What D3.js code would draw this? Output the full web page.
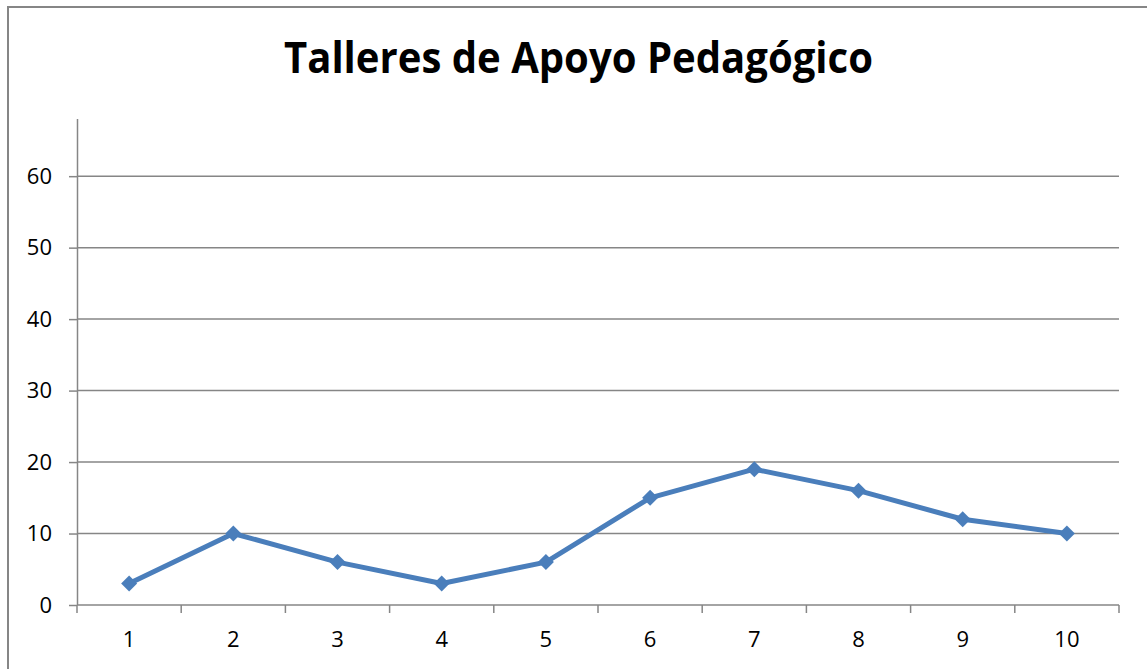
<!DOCTYPE html>
<html>
<head>
<meta charset="utf-8">
<script src="https://cdn.jsdelivr.net/npm/d3@7"></script>
<style>
	html, body { margin: 0; padding: 0; background: #fff; }
	svg { display: block; }
	.tick text { font-family: "Open Sans", Lato, sans-serif; font-size: 22px; fill: #000; }
</style>
</head>
<body>
<div id="chart"></div>
<script>
// data
var categories = ["1", "2", "3", "4", "5", "6", "7", "8", "9", "10"];
var values = [3, 10, 6, 3, 6, 15, 19, 16, 12, 10];
var yTicks = [0, 10, 20, 30, 40, 50, 60];
var title = "Talleres de Apoyo Pedagógico";

var W = 1147, H = 669;
var margin = { top: 119, right: 28, bottom: 64, left: 77 };
var width = W - margin.left - margin.right,
	height = H - margin.top - margin.bottom;

var grey = "#868686",
	blue = "#4a7ebb";

var svg = d3.select("#chart").append("svg")
	.attr("width", W)
	.attr("height", H);

// outer frame, runs off the right and bottom edges
svg.append("rect")
	.attr("x", 8).attr("y", 7)
	.attr("width", W + 20).attr("height", H + 20)
	.attr("fill", "none")
	.attr("stroke", grey)
	.attr("stroke-width", 2);

svg.append("text")
	.attr("x", 578.5)
	.attr("y", 73)
	.attr("text-anchor", "middle")
	.attr("textLength", 589)
	.attr("lengthAdjust", "spacingAndGlyphs")
	.style("font-family", "'Open Sans', Lato, sans-serif")
	.style("font-weight", "bold")
	.style("font-size", "43px")
	.text(title);

var g = svg.append("g")
	.attr("transform", "translate(" + margin.left + "," + margin.top + ")");

var x = d3.scaleBand().domain(categories).range([0, width]);
var y = d3.scaleLinear().domain([0, 68]).range([height, 0]);

// gridlines
g.append("g").selectAll("line")
	.data(yTicks.filter(function(d) { return d > 0; }))
	.join("line")
	.attr("x1", 0).attr("x2", width)
	.attr("y1", function(d) { return y(d); })
	.attr("y2", function(d) { return y(d); })
	.attr("stroke", grey)
	.attr("stroke-width", 1.5);

// y axis
var yAxis = g.append("g")
	.call(d3.axisLeft(y).tickValues(yTicks).tickSize(8).tickPadding(17));
yAxis.select(".domain").attr("stroke", grey).attr("stroke-width", 1.5).attr("d", "M0.5," + height + "V0");
yAxis.selectAll(".tick line").attr("stroke", grey).attr("stroke-width", 1.5);

// x axis with ticks on category boundaries
var xg = g.append("g").attr("transform", "translate(0," + height + ")");
xg.append("line")
	.attr("x1", 0).attr("x2", width)
	.attr("stroke", grey).attr("stroke-width", 1.5);
xg.selectAll(".bt")
	.data(d3.range(categories.length + 1))
	.join("line")
	.attr("class", "bt")
	.attr("x1", function(i) { return i * x.step(); })
	.attr("x2", function(i) { return i * x.step(); })
	.attr("y1", 0).attr("y2", 8)
	.attr("stroke", grey).attr("stroke-width", 1.5);
var xAxis = xg.append("g")
	.call(d3.axisBottom(x).tickSize(0).tickPadding(26));
xAxis.select(".domain").remove();

// series
var cx = function(d, i) { return x(categories[i]) + x.bandwidth() / 2; };
g.append("path")
	.datum(values)
	.attr("fill", "none")
	.attr("stroke", blue)
	.attr("stroke-width", 5)
	.attr("stroke-linejoin", "round")
	.attr("d", d3.line().x(cx).y(function(d) { return y(d); }));

g.selectAll(".marker")
	.data(values)
	.join("path")
	.attr("class", "marker")
	.attr("transform", function(d, i) { return "translate(" + cx(d, i) + "," + y(d) + ")"; })
	.attr("d", "M0,-8L8,0L0,8L-8,0Z")
	.attr("fill", blue);
</script>
</body>
</html>
